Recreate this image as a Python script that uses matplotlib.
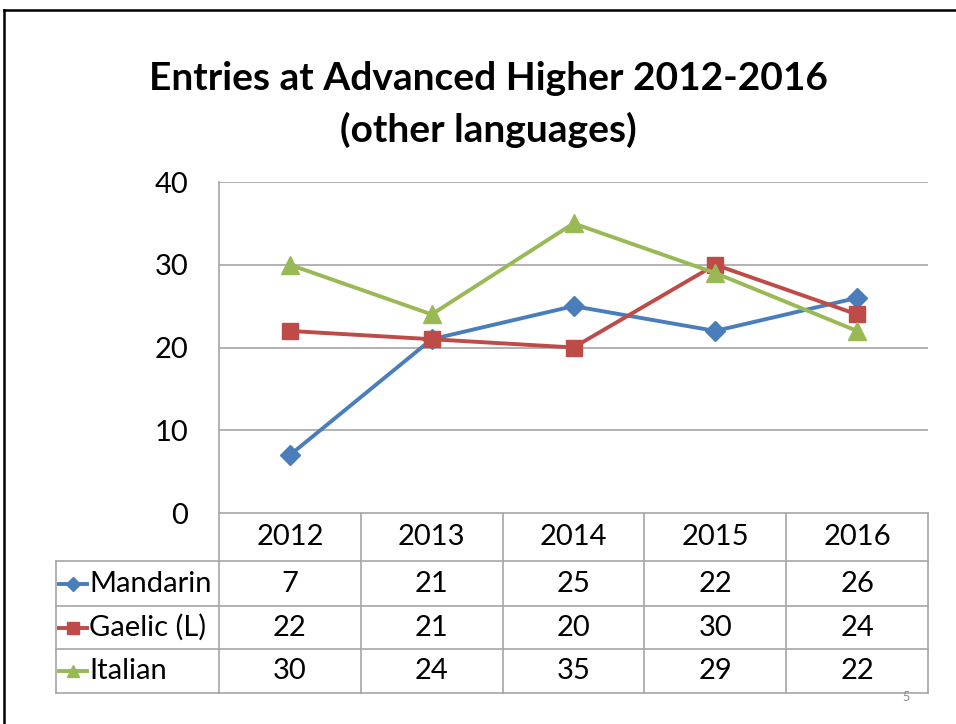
import matplotlib
matplotlib.use("Agg")
import matplotlib.pyplot as plt

years = ["2012", "2013", "2014", "2015", "2016"]
series_names = ["Mandarin", "Gaelic (L)", "Italian"]
mandarin = [7, 21, 25, 22, 26]
gaelic = [22, 21, 20, 30, 24]
italian = [30, 24, 35, 29, 22]
y_ticks = [0, 10, 20, 30, 40]

colors = ["#4A7EBB", "#BE4B48", "#98B954"]
markers = ["D", "s", "^"]
msizes = [10, 12, 13]

plt.rcParams["font.family"] = ["Lato", "DejaVu Sans"]

W, H = 956, 724
fig = plt.figure(figsize=(W / 100, H / 100), dpi=100)

# pixel layout of the chart on the slide
px_left, px_right = 219, 928
px_top, px_zero = 182, 513
row_edges = [513, 561, 606, 649, 693]
table_left = 56
fs = 21

ax = fig.add_axes([px_left / W, 1 - px_zero / H,
                   (px_right - px_left) / W, (px_zero - px_top) / H])
ax.set_xlim(-0.5, len(years) - 0.5)
ax.set_ylim(0, 40)
ax.set_yticks(y_ticks)
ax.set_yticklabels([str(t) for t in y_ticks], fontsize=fs)
ax.tick_params(axis="y", length=0, pad=22)
ax.set_xticks([])
for s in ["top", "right", "bottom"]:
    ax.spines[s].set_visible(False)
ax.spines["left"].set_color("#A6A6A6")
ax.spines["left"].set_linewidth(1.2)
ax.grid(True, axis="y", color="#A6A6A6", linewidth=1.2)
ax.set_axisbelow(True)

all_series = [mandarin, gaelic, italian]
xs = list(range(len(years)))
for vals, c, m, ms in zip(all_series, colors, markers, msizes):
    ax.plot(xs, vals, color=c, linewidth=2.8, marker=m, markersize=ms,
            markeredgecolor=c, clip_on=False, zorder=3)

# overlay in pixel coordinates for title, table, border
ov = fig.add_axes([0, 0, 1, 1], zorder=-1)
ov.set_xlim(0, W)
ov.set_ylim(H, 0)
ov.axis("off")

# slide border
ov.plot([4, W], [10, 10], color="black", linewidth=1.8)
ov.plot([4, 4], [10, H], color="black", linewidth=1.8)

ov.text(488, 78, "Entries at Advanced Higher 2012-2016", ha="center",
        va="center", fontsize=28, fontweight="bold")
ov.text(488, 130, "(other languages)", ha="center", va="center",
        fontsize=28, fontweight="bold")

# data table
grid_c = "#A6A6A6"
col_w = (px_right - px_left) / len(years)
col_edges = [px_left + i * col_w for i in range(len(years) + 1)]
ov.plot([px_left, px_right], [row_edges[0], row_edges[0]], color=grid_c, lw=1.2)
for y in row_edges[1:]:
    ov.plot([table_left, px_right], [y, y], color=grid_c, lw=1.2)
for x in col_edges:
    ov.plot([x, x], [row_edges[0], row_edges[-1]], color=grid_c, lw=1.2)
ov.plot([table_left, table_left], [row_edges[1], row_edges[-1]], color=grid_c, lw=1.2)

for i, yr in enumerate(years):
    cx = (col_edges[i] + col_edges[i + 1]) / 2
    ov.text(cx, (row_edges[0] + row_edges[1]) / 2, yr, ha="center",
            va="center", fontsize=fs)

for r, (name, vals, c, m, ms) in enumerate(zip(series_names, all_series,
                                               colors, markers, msizes)):
    cy = (row_edges[r + 1] + row_edges[r + 2]) / 2
    ov.plot([59, 87], [cy, cy], color=c, linewidth=2.8)
    ov.plot([73], [cy], color=c, marker=m, markersize=ms * 0.7)
    ov.text(89, cy, name, ha="left", va="center", fontsize=fs)
    for i, v in enumerate(vals):
        cx = (col_edges[i] + col_edges[i + 1]) / 2
        ov.text(cx, cy, str(v), ha="center", va="center", fontsize=fs)

ov.text(906, 697, "5", ha="center", va="center", fontsize=9, color="#8C8C8C")

fig.savefig("out.png", dpi=100)
